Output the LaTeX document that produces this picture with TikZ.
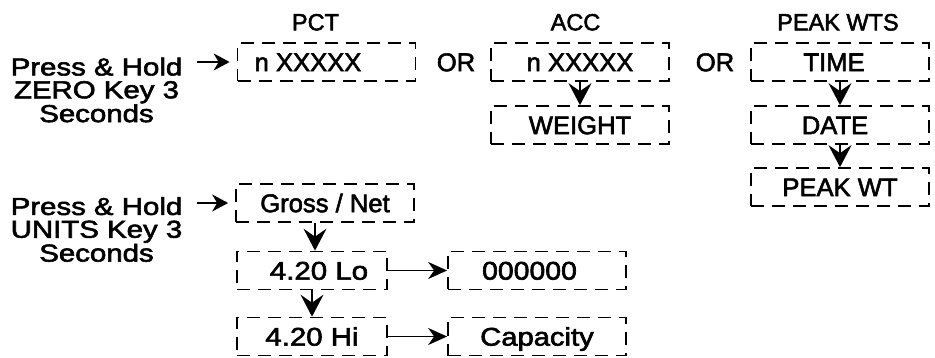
\documentclass[tikz,border=0pt]{standalone}
\usepackage{fontspec}
\setmainfont{Liberation Sans}
\newfontfamily\hv[FakeBold=2.2]{Liberation Sans}
\usepackage{graphicx}
\usetikzlibrary{arrows.meta}
\newcommand{\hs}[2]{\scalebox{#1}[1]{#2}}
\begin{document}
\begin{tikzpicture}[x=1pt,y=-1pt,
  box/.style={draw, line width=1.7pt, dash pattern=on 13pt off 8pt, minimum width=178pt, minimum height=38pt, inner sep=0pt, font=\hv\fontsize{25.6}{25.6}\selectfont, text height=18.3pt, text depth=0pt},
  shortbox/.style={box, minimum width=150pt},
  txt/.style={inner sep=0pt, font=\hv\fontsize{25.6}{25.6}\selectfont, text height=18.3pt, text depth=0pt},
  lbl/.style={font=\hv\fontsize{23.5}{23.5}\selectfont, inner sep=0pt, text height=16.8pt, text depth=0pt},
  side/.style={font=\hv\fontsize{24.5}{22.8}\selectfont, align=center, inner sep=0pt, anchor=north},
  varr/.style={-{Stealth[length=22pt,width=23pt,inset=8pt]}, line width=1.7pt},
  harr/.style={-{Stealth[length=19pt,width=17pt,inset=6pt]}, line width=1.7pt},
  sarr/.style={-{Stealth[length=16pt,width=17pt,inset=5pt]}, line width=1.7pt, shorten >=7pt},
]
\useasboundingbox (0,0) rectangle (935,358);

% ZERO key row
\node[side] (zt) at (96.5,57.5) {\hs{1.2}{Press \& Hold}\\\hs{1.2}{ZERO Key 3}\\\hs{1.2}{Seconds}};
\node[lbl] (pctl) at (315.5,22) {PCT};
\node[box] (pct) at (326.5,62) {n XXXXX\hspace*{37pt}};
\node[txt] (or1) at (456,62) {OR};
\node[lbl] (accl) at (575.5,22) {ACC};
\node[box] (acc) at (580,62) {n XXXXX};
\node[box] (wt) at (580,125) {WEIGHT};
\node[txt] (or2) at (715,62) {OR};
\node[lbl] (peakl) at (838,22) {PEAK WTS};
\node[box] (time) at (840,62) {TIME\hspace*{12pt}};
\node[box] (date) at (840,125) {DATE\hspace*{10pt}};
\node[box] (peak) at (840,187) {PEAK WT};
\coordinate (s1) at (197,62);
\draw[sarr] (s1) -- (pct.west);
\draw[varr] (acc) -- (wt);
\draw[varr] (time) -- (date);
\draw[varr] (date) -- (peak);

% UNITS key row
\node[side] (ut) at (96.5,197) {\hs{1.2}{Press \& Hold}\\\hs{1.2}{UNITS Key 3}\\\hs{1.2}{Seconds}};
\node[box] (gn) at (325,203) {Gross / Net};
\node[shortbox] (lo) at (312,270.5) {\hspace*{14pt}\hs{1.15}{4.20 Lo}};
\node[shortbox] (hi) at (312,336.5) {\hs{1.15}{4.20 Hi}};
\node[box] (zero) at (537,270.5) {\hs{1.11}{000000}\hspace*{15pt}};
\node[box] (cap) at (537,336.5) {\hs{1.14}{Capacity}};
\coordinate (s2) at (197,203);
\draw[sarr] (s2) -- (gn.west);
\draw[varr] ([xshift=3pt]lo.north |- gn.south) -- ([xshift=3pt]lo.north);
\draw[varr] (lo) -- (hi);
\draw[harr] (lo) -- (zero);
\draw[harr] (hi) -- (cap);
\end{tikzpicture}
\end{document}
